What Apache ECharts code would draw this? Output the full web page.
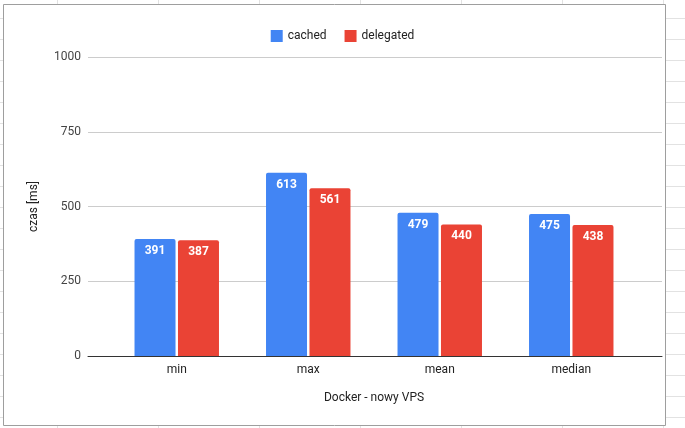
<!DOCTYPE html>
<html>
<head>
<meta charset="utf-8">
<script src="https://cdn.jsdelivr.net/npm/echarts@6/dist/echarts.min.js"></script>
<style>
  html, body { margin: 0; padding: 0; }
  #sheet {
    width: 685px; height: 428px; background-color: #fff;
    background-image: linear-gradient(to right, #e2e2e2 1px, transparent 1px),
                      linear-gradient(to bottom, #e2e2e2 1px, transparent 1px);
    background-size: 101px 21px;
    background-position: 57px 18px;
  }
  #chart { width: 685px; height: 428px; }
</style>
</head>
<body>
<div id="sheet"><div id="chart"></div></div>
<script>
// dane z wykresu
const categories = ['min', 'max', 'mean', 'median'];
const cached = [391, 613, 479, 475];
const delegated = [387, 561, 440, 438];
const yTicks = [0, 250, 500, 750, 1000];

const font = 'Roboto, Arial, sans-serif';
const chart = echarts.init(document.getElementById('chart'));

chart.setOption({
  animation: false,
  textStyle: { fontFamily: font },
  graphic: [{
    type: 'rect', z: -10, silent: true,
    shape: { x: 3.5, y: 4.5, width: 662, height: 421 },
    style: { fill: '#fff', stroke: '#9e9e9e', lineWidth: 1 }
  }],
  legend: {
    top: 25, left: 'center',
    itemWidth: 12, itemHeight: 12, itemGap: 18,
    icon: 'rect',
    textStyle: { fontSize: 12, color: '#222', fontFamily: font },
    data: ['cached', 'delegated']
  },
  grid: [
    // siatka + oś (szersza)
    { left: 88, right: 23, top: 57, bottom: 72 },
    // słupki
    { left: 111, right: 48, top: 57, bottom: 72 }
  ],
  xAxis: [
    {
      gridIndex: 0, type: 'category', data: categories,
      axisLine: { lineStyle: { color: '#333', width: 1 } },
      axisTick: { show: false }, axisLabel: { show: false }
    },
    {
      gridIndex: 1, type: 'category', data: categories,
      axisLine: { show: false }, axisTick: { show: false },
      axisLabel: { fontSize: 12, color: '#222', margin: 8, fontFamily: font },
      name: 'Docker - nowy VPS', nameLocation: 'middle', nameGap: 36,
      nameTextStyle: { fontSize: 12, color: '#222', fontFamily: font }
    }
  ],
  yAxis: [
    {
      gridIndex: 0, type: 'value', min: yTicks[0], max: yTicks[yTicks.length - 1], interval: 250,
      axisLine: { show: false }, axisTick: { show: false },
      axisLabel: { fontSize: 12, color: '#444', margin: 7, fontFamily: font,
                   formatter: v => String(v) },
      splitLine: { lineStyle: { color: '#cccccc', width: 1 } },
      name: 'czas [ms]', nameLocation: 'middle', nameGap: 48, nameRotate: 90,
      nameTextStyle: { fontSize: 12, color: '#222', fontFamily: font }
    },
    {
      gridIndex: 1, type: 'value', min: yTicks[0], max: yTicks[yTicks.length - 1], interval: 250,
      show: false, splitLine: { show: false }
    }
  ],
  series: [
    {
      name: 'cached', type: 'bar', xAxisIndex: 1, yAxisIndex: 1,
      data: cached, barWidth: 41, barGap: '6%',
      itemStyle: { color: '#4285F4', borderRadius: [2, 2, 0, 0] },
      label: { show: true, position: 'insideTop', distance: 6, color: '#fff',
               fontSize: 12, fontWeight: 'bold', fontFamily: font }
    },
    {
      name: 'delegated', type: 'bar', xAxisIndex: 1, yAxisIndex: 1,
      data: delegated, barWidth: 41,
      itemStyle: { color: '#EA4335', borderRadius: [2, 2, 0, 0] },
      label: { show: true, position: 'insideTop', distance: 6, color: '#fff',
               fontSize: 12, fontWeight: 'bold', fontFamily: font }
    }
  ]
});
</script>
</body>
</html>
